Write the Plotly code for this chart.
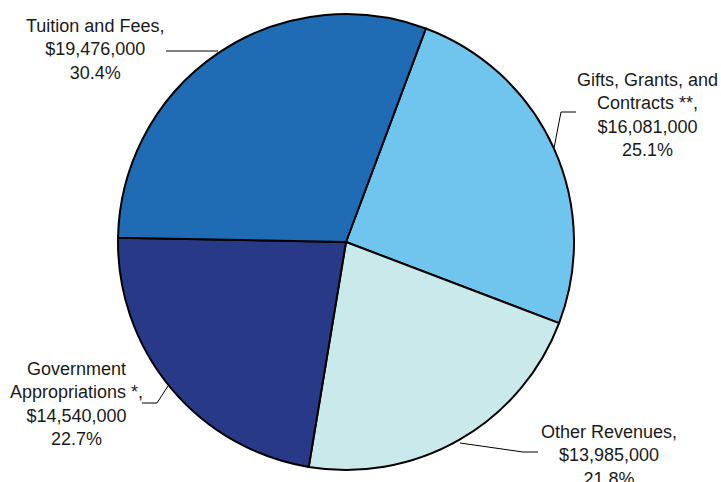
import plotly.graph_objects as go

W, H = 721, 482

categories = ["Gifts, Grants, and<br>Contracts **,", "Other Revenues,", "Government<br>Appropriations *,", "Tuition and Fees,"]
values = [16081000, 13985000, 14540000, 19476000]
colors = ["#6FC5EE", "#C9E9EB", "#283A87", "#1F6CB4"]

total = sum(values)

def px(x, y):
    return x / W, 1 - y / H

fig = go.Figure(go.Pie(
    labels=categories,
    values=values,
    sort=False,
    direction="clockwise",
    rotation=20.5,
    marker=dict(colors=colors, line=dict(color="black", width=2)),
    textinfo="none",
    hoverinfo="none",
    showlegend=False,
    domain=dict(x=[118 / W, 574 / W], y=[(H - 470) / H, (H - 14) / H]),
))

# label positions (pixel) and leader lines (pixel polylines)
label_pos = [(647, 115), (609, 455), (76, 404), (95, 50)]
leaders = [
    [(576, 112), (561, 112), (554, 148)],
    [(538, 452), (523, 452), (460, 443)],
    [(142, 403), (157, 403), (168, 386)],
    [(166, 51), (180, 51), (218, 51)],
]

annotations = []
shapes = []
for cat, v, (lx, ly), pts in zip(categories, values, label_pos, leaders):
    ax, ay = px(lx, ly)
    text = f"{cat}<br>${v:,.0f}<br>{v / total * 100:.1f}%"
    annotations.append(dict(
        x=ax, y=ay, xref="paper", yref="paper", text=text, showarrow=False,
        xanchor="center", yanchor="middle", align="center",
        font=dict(family="Liberation Sans, Arial, sans-serif", size=18, color="#1a1a1a"),
    ))
    path = "M " + " L ".join(f"{px(x, y)[0]},{px(x, y)[1]}" for x, y in pts)
    shapes.append(dict(type="path", xref="paper", yref="paper", path=path,
                       line=dict(color="black", width=1)))

fig.update_layout(
    width=W, height=H,
    margin=dict(l=0, r=0, t=0, b=0),
    paper_bgcolor="white", plot_bgcolor="white",
    annotations=annotations, shapes=shapes,
)

fig.write_html("out.html", config={"displayModeBar": False},
               post_script="document.body.style.margin='0';")
